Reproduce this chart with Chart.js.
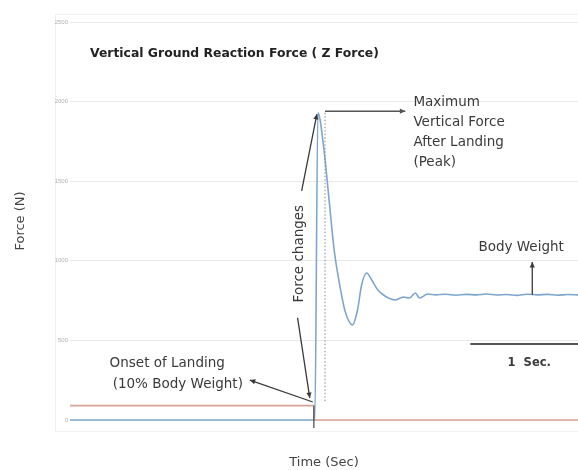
<!DOCTYPE html>
<html>
<head>
<meta charset="utf-8">
<script src="https://cdn.jsdelivr.net/npm/chart.js@4.4.1/dist/chart.umd.min.js"></script>
<style>
  html, body { margin: 0; padding: 0; background: #fff; }
  #wrap { width: 578px; height: 470px; position: relative; }
</style>
</head>
<body>
<div id="wrap"><canvas id="grf"></canvas></div>
<script>
// ---- data (time in s, force in N) ----
const forceTime = [0, 0.5, 1.0, 1.5, 2.0, 2.41, 2.44, 2.50, 2.55, 2.60, 2.66, 2.71, 2.78, 2.83, 2.87, 2.92, 2.97, 3.03, 3.10, 3.20, 3.28, 3.34, 3.40, 3.44, 3.52,
                   3.6, 3.7, 3.8, 3.9, 4.0, 4.1, 4.2, 4.3, 4.4, 4.5, 4.6, 4.7, 4.8, 4.9, 5.0];
const forceValues = [0, 0, 0, 0, 0, 0, 1930, 1696, 1382, 1068, 829, 678, 597, 691, 848, 923, 879, 816, 779, 754, 772, 766, 798, 766, 791,
                     786, 790, 784, 789, 786, 791, 785, 788, 783, 790, 786, 789, 784, 788, 786];

const thresholdTime = [0, 2.40, 2.40, 5.0];
const thresholdValues = [90, 90, 0, 0];

const yTicks = [0, 500, 1000, 1500, 2000, 2500];

const onsetTime = 2.40;
const peakForce = 1930;
const bodyWeight = 786;

const fontFamily = '"DejaVu Sans", sans-serif';
const txtFont = '13.5px ' + fontFamily;
const inkColor = '#3a3a3a';

function arrow(ctx, x1, y1, x2, y2, head) {
    ctx.beginPath();
    ctx.moveTo(x1, y1);
    ctx.lineTo(x2, y2);
    ctx.stroke();
    if (!head) return;
    const a = Math.atan2(y2 - y1, x2 - x1);
    ctx.beginPath();
    ctx.moveTo(x2, y2);
    ctx.lineTo(x2 - 6 * Math.cos(a - 0.45), y2 - 6 * Math.sin(a - 0.45));
    ctx.lineTo(x2 - 6 * Math.cos(a + 0.45), y2 - 6 * Math.sin(a + 0.45));
    ctx.closePath();
    ctx.fill();
}

const notesPlugin = {
    id: 'notes',
    beforeDraw(chart) {
        const ctx = chart.ctx;
        ctx.save();
        ctx.strokeStyle = '#efefef';
        ctx.lineWidth = 1;
        ctx.strokeRect(55.5, 14.5, 530, 417);
        ctx.restore();
    },
    afterDatasetsDraw(chart) {
        const { ctx } = chart;
        const x = chart.scales.x, y = chart.scales.y;
        const px = v => x.getPixelForValue(v);
        const py = v => y.getPixelForValue(v);
        ctx.save();

        // title inside the plot
        ctx.fillStyle = '#222';
        ctx.font = 'bold 12.4px ' + fontFamily;
        ctx.textBaseline = 'middle';
        ctx.textAlign = 'left';
        ctx.fillText('Vertical Ground Reaction Force ( Z Force)', 90, 54);

        ctx.strokeStyle = inkColor;
        ctx.fillStyle = inkColor;
        ctx.lineWidth = 1.3;

        // onset marker below the axis
        ctx.strokeStyle = '#555';
        arrow(ctx, px(onsetTime), py(90), px(onsetTime), py(0) + 8, false);

        // dotted dimension line from threshold to peak
        ctx.strokeStyle = '#8a8a8a';
        ctx.lineWidth = 1;
        ctx.setLineDash([1.5, 2]);
        arrow(ctx, px(2.51), py(peakForce), px(2.51), py(110), false);
        ctx.setLineDash([]);

        // peak arrow
        ctx.strokeStyle = '#555';
        ctx.fillStyle = '#555';
        ctx.lineWidth = 1.5;
        arrow(ctx, px(2.51), py(peakForce + 10), px(3.30), py(peakForce + 10), true);

        ctx.fillStyle = inkColor;
        ctx.strokeStyle = inkColor;
        ctx.lineWidth = 1.3;
        ctx.font = txtFont;
        ctx.textAlign = 'left';
        const peakLines = ['Maximum', 'Vertical Force', 'After Landing', '(Peak)'];
        peakLines.forEach((s, i) => ctx.fillText(s, px(3.38), py(1997) + i * 20));

        // force changes label + arrows
        ctx.save();
        ctx.translate(px(2.26), py(1045));
        ctx.rotate(-Math.PI / 2);
        ctx.textAlign = 'center';
        ctx.fillText('Force changes', 0, 0);
        ctx.restore();
        arrow(ctx, px(2.28), py(1440), px(2.43), py(1922), true);
        arrow(ctx, px(2.24), py(641), px(2.36), py(138), true);

        // onset label + arrow
        ctx.fillText('Onset of Landing', px(0.39), py(352));
        ctx.fillText('(10% Body Weight)', px(0.42), py(220));
        arrow(ctx, px(2.39), py(113), px(1.77), py(251), true);

        // body weight
        ctx.textAlign = 'center';
        ctx.fillText('Body Weight', px(4.44), py(1086));
        arrow(ctx, px(4.55), py(bodyWeight), px(4.55), py(992), true);

        // 1 sec scale bar
        ctx.strokeStyle = '#555';
        ctx.lineWidth = 2;
        arrow(ctx, px(3.94), py(477), px(5.0), py(477), false);
        ctx.font = 'bold 11.5px ' + fontFamily;
        ctx.fillText('1  Sec.', px(4.52), py(358));

        ctx.restore();
    }
};

new Chart(document.getElementById('grf'), {
    type: 'line',
    data: {
        datasets: [
            {
                label: 'Vertical force',
                data: forceTime.map((t, i) => ({ x: t, y: forceValues[i] })),
                borderColor: '#7ea6cc',
                borderWidth: 1.6,
                pointRadius: 0,
                cubicInterpolationMode: 'monotone',
                clip: 4
            },
            {
                label: '10% body weight',
                data: thresholdTime.map((t, i) => ({ x: t, y: thresholdValues[i] })),
                borderColor: '#d6a396',
                borderWidth: 1.6,
                pointRadius: 0,
                tension: 0,
                clip: 4
            }
        ]
    },
    options: {
        responsive: true,
        maintainAspectRatio: false,
        animation: false,
        layout: { padding: { top: 22, right: 0, bottom: 0, left: 0 } },
        plugins: { legend: { display: false }, tooltip: { enabled: false } },
        scales: {
            x: {
                type: 'linear',
                min: 0,
                max: 5,
                ticks: { display: false },
                grid: { display: false },
                border: { display: false },
                title: { display: true, text: 'Time (Sec)', color: '#444', font: { family: fontFamily, size: 13 }, padding: { top: 0, bottom: 0 } },
                afterFit: s => { s.height = 50; }
            },
            y: {
                min: 0,
                max: 2500,
                afterBuildTicks: s => { s.ticks = yTicks.map(v => ({ value: v })); },
                ticks: { color: '#b0b0b0', font: { size: 6 }, padding: 2, callback: v => String(v) },
                grid: { color: '#e9e9e9', drawTicks: false },
                border: { display: false },
                title: { display: true, text: 'Force (N)', color: '#444', font: { family: fontFamily, size: 13 }, padding: { top: 13, bottom: 0 } },
                afterFit: s => { s.width = 70; }
            }
        }
    },
    plugins: [notesPlugin]
});
</script>
</body>
</html>
